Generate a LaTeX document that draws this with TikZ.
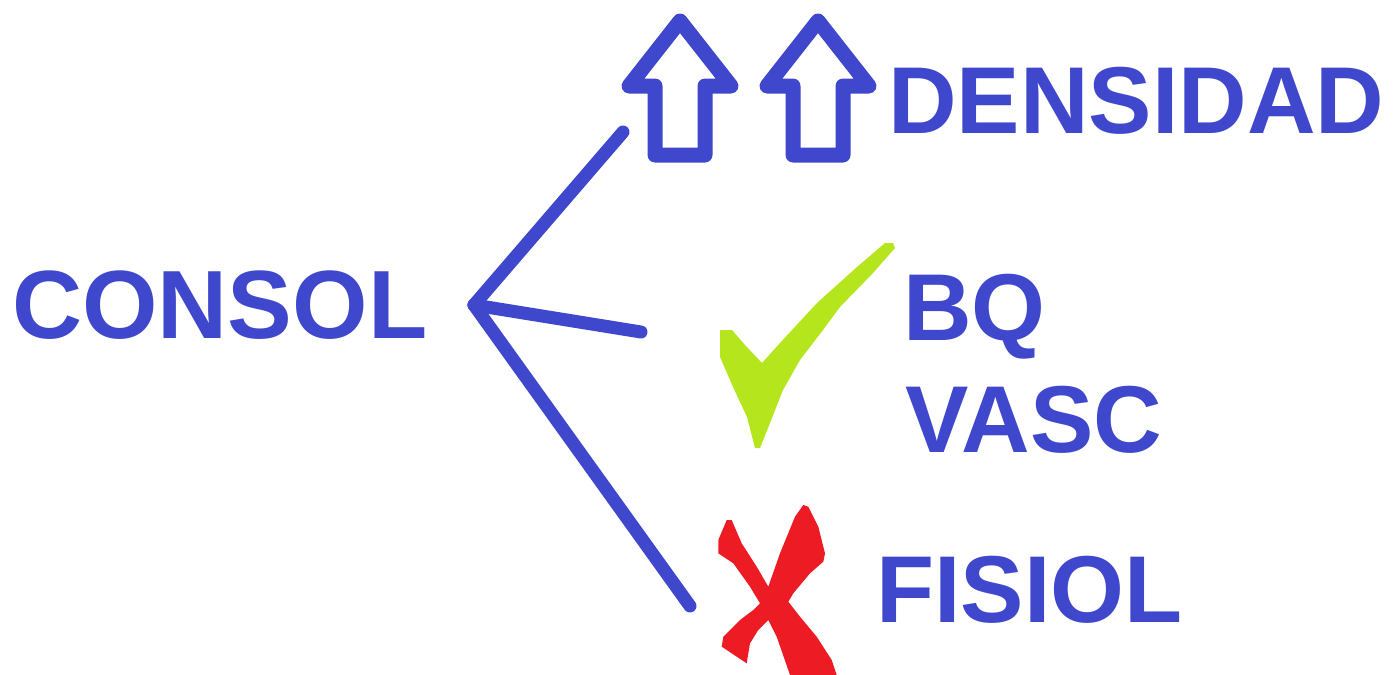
\documentclass[tikz,border=0pt]{standalone}
\usepackage{fontspec}
\setmainfont{Liberation Sans}
\usepackage{xcolor}
\definecolor{PaintIndigo}{HTML}{3F48CC}
\definecolor{PaintLime}{HTML}{B5E61D}
\definecolor{PaintRed}{HTML}{ED1C24}
\usepackage{tikz}
\usetikzlibrary{positioning, calc}
\tikzstyle{label} = [text=PaintIndigo, font=\fontsize{47.5}{56}\selectfont\bfseries, inner sep=0pt, anchor=base west]
\tikzstyle{branch} = [draw=PaintIndigo, line width=6.5pt, line cap=round]
\tikzstyle{hollowup} = [draw=PaintIndigo, line width=7.5pt, line join=round]

\begin{document}
\begin{tikzpicture}[x=0.5pt, y=-0.5pt]
        \useasboundingbox (0,0) rectangle (1394,675);

        % Labels
        \node [label, font=\fontsize{48.5}{56}\selectfont\bfseries] (consol) at (12,338) {CONSOL};
        \node [label] (densidad) at (888,133) {DENSIDAD};
        \node [label] (bq) at (903,340) {BQ};
        \node [label] (vasc) at (905,452) {VASC};
        \node [label] (fisiol) at (876,622) {FISIOL};

        % Branches
        \coordinate (hub) at (474,305);
        \coordinate (upend) at (623,132);
        \coordinate (midend) at (641,332);
        \coordinate (lowend) at (690,606);
        \draw [branch] (hub) -- (upend);
        \draw [branch] (hub) -- (midend);
        \draw [branch] (hub) -- (lowend);

        % Up arrows
        \foreach \dx in {0,138} {
            \draw [hollowup, shift={(\dx,0)}] (680,21) -- (731,86) -- (705,86) -- (705,155)
                -- (655,155) -- (655,86) -- (629,86) -- cycle;
        }

        % Tick
        \fill [PaintLime] (720,330) -- (720,357) -- (733,387) -- (747,417) -- (755,448)
            -- (760,448) -- (770,423) -- (783,390) -- (800,360) -- (823,330) -- (840,307)
            -- (873,273) -- (895,248) -- (893,243) -- (885,243) -- (857,267) -- (817,303)
            -- (780,343) -- (762,363) -- (745,345) -- (732,330) -- cycle;

        % Cross
        \fill [PaintRed] (726.7,520) -- (731.7,520) -- (741.7,543.3) -- (756.7,566.7)
            -- (768.3,586.7) -- (780,553.3) -- (795,516.7) -- (803.3,505) -- (808.3,506.7)
            -- (818.3,526.7) -- (825,553.3) -- (823.3,561.7) -- (810,573.3) -- (793.3,593.3)
            -- (788.3,601.7) -- (800,616.7) -- (816.7,636.7) -- (831.7,660) -- (836.7,675)
            -- (790,675) -- (776.7,636.7) -- (768.3,620) -- (758.3,630) -- (750,643.3)
            -- (746.7,663.3) -- (731.7,653.3) -- (721.7,646.7) -- (723.3,636.7) -- (740,620)
            -- (753.3,610) -- (760,603.3) -- (750,586.7) -- (733.3,563.3) -- (718.3,553.3)
            -- (718.3,540) -- cycle;
    \end{tikzpicture}
\end{document}
